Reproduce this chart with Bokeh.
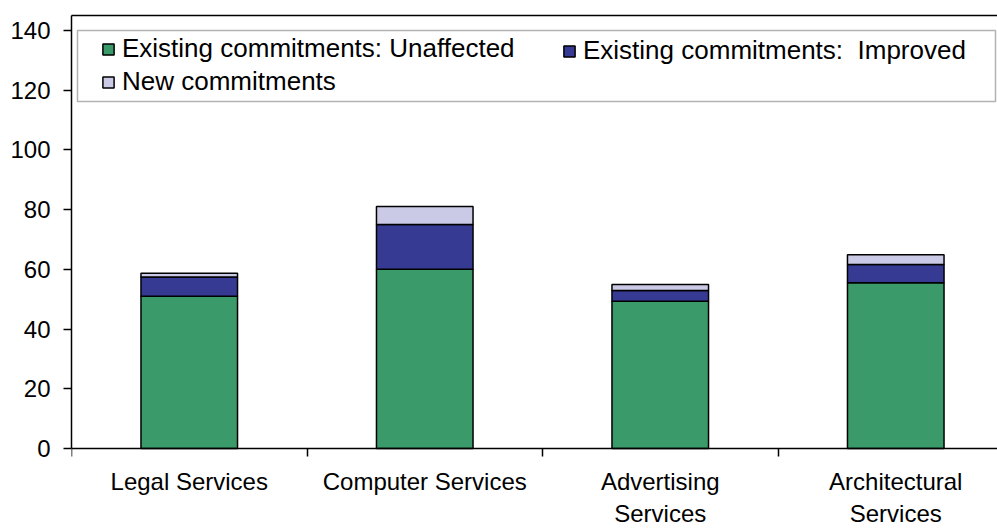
from bokeh.plotting import figure
from bokeh.models import (ColumnDataSource, FixedTicker, LinearAxis, Range1d,
                          Legend, LegendItem, BoxAnnotation)
from bokeh.embed import file_html
from bokeh.resources import INLINE

categories = ["Legal Services", "Computer Services", "Advertising\nServices", "Architectural\nServices"]
unaffected = [51.0, 60.0, 49.3, 55.5]
improved = [6.4, 15.0, 3.6, 6.1]
new_commit = [1.3, 6.0, 2.0, 3.3]
y_ticks = [0, 20, 40, 60, 80, 100, 120, 140]
series_names = ["Existing commitments: Unaffected", "Existing commitments:  Improved", "New commitments"]
colors = ["#3A9A69", "#363A92", "#CACAE6"]

FONT = "Liberation Sans"
W, H = 997, 529
LEFT, TOP = 71, 15
PX_X = 235.5           # pixels per category
PX_Y = 2.986           # pixels per unit
AXIS_Y = 448           # pixel row of value 0
frame_w = W - LEFT
frame_h = H - TOP

centers = [i + 0.5 for i in range(len(categories))]
bounds = [float(i) for i in range(len(categories) + 1)]
y_top = 145
y_bottom = -(H - AXIS_Y) / PX_Y

src = ColumnDataSource(dict(x=centers, unaffected=unaffected, improved=improved, new=new_commit))

p = figure(width=W, height=H, output_backend="svg", toolbar_location=None,
           x_range=Range1d(0, frame_w / PX_X), y_range=Range1d(y_bottom, y_top),
           x_axis_type=None, y_axis_type=None,
           min_border_left=LEFT, min_border_right=0, min_border_top=TOP, min_border_bottom=0)
p.outline_line_color = None
p.background_fill_color = "white"
p.border_fill_color = "white"

rends = p.vbar_stack(["unaffected", "improved", "new"], x="x", width=0.41, source=src,
                     color=colors, line_color="black", line_width=1.5)

# y axis
yax = LinearAxis(ticker=FixedTicker(ticks=y_ticks, minor_ticks=[]), bounds=(0, y_top))
yax.axis_line_color = "black"
yax.axis_line_width = 1.5
yax.major_tick_out = 8
yax.major_tick_in = 0
yax.major_tick_line_width = 1.5
yax.major_label_standoff = 13
yax.major_label_text_font = FONT
yax.major_label_text_font_size = "24px"
yax.major_label_text_color = "black"
p.add_layout(yax, "left")

# x axis at value 0 (categories at centers, tick marks between categories)
xax = LinearAxis(ticker=FixedTicker(ticks=centers, minor_ticks=bounds), fixed_location=0)
xax.major_label_overrides = {c: name for c, name in zip(centers, categories)}
xax.axis_line_color = "black"
xax.axis_line_width = 1.5
xax.major_tick_line_color = None
xax.major_tick_out = 0
xax.major_tick_in = 0
xax.minor_tick_out = 8
xax.minor_tick_in = 0
xax.minor_tick_line_color = "black"
xax.minor_tick_line_width = 1.5
xax.major_label_standoff = 12
xax.major_label_text_font = FONT
xax.major_label_text_font_size = "24px"
xax.major_label_text_line_height = 1.18
xax.major_label_text_color = "black"
p.add_layout(xax, "below")

# top border line of plot area
top = LinearAxis(ticker=FixedTicker(ticks=centers, minor_ticks=[]))
top.axis_line_color = "black"
top.axis_line_width = 1.5
top.major_tick_line_color = None
top.major_tick_out = 0
top.major_tick_in = 0
top.minor_tick_out = 0
top.major_label_standoff = 0
top.major_label_text_font_size = "0px"
top.major_label_text_color = None
p.add_layout(top, "above")

p.ygrid.ticker = FixedTicker(ticks=y_ticks)
p.ygrid.grid_line_color = "black"
p.ygrid.grid_line_width = 1.5
p.xgrid.visible = False

# legend frame
box = BoxAnnotation(left=(77 - LEFT) / PX_X, right=(995 - LEFT) / PX_X,
                    bottom=(AXIS_Y - 101) / PX_Y, top=140,
                    fill_color="white", fill_alpha=1.0, line_color="black", line_width=1.5)
p.add_layout(box)

item_h = 29
gap = 2
off_top = 22
leg_a = Legend(items=[LegendItem(label=series_names[0], renderers=[rends[0]]),
                      LegendItem(label=series_names[2], renderers=[rends[2]])],
               location=(30, frame_h - off_top - (2 * item_h + gap)), orientation="vertical")
leg_b = Legend(items=[LegendItem(label=series_names[1], renderers=[rends[1]])],
               location=(491, frame_h - off_top - item_h), orientation="vertical")
for lg in (leg_a, leg_b):
    lg.padding = 0
    lg.margin = 0
    lg.spacing = gap
    lg.border_line_color = None
    lg.background_fill_alpha = 0
    lg.glyph_width = 14
    lg.glyph_height = 14
    lg.label_height = item_h
    lg.label_standoff = 7
    lg.label_text_font = FONT
    lg.label_text_font_size = "26px"
    lg.label_text_color = "black"
    p.add_layout(lg)

open("out.html", "w").write(file_html(p, INLINE))
